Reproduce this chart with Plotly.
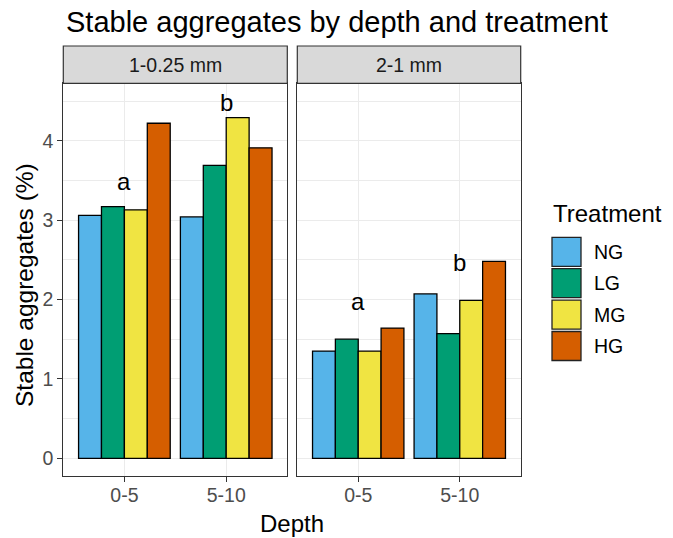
import plotly.graph_objects as go

# ---- data ----
depths = ["0-5", "5-10"]
treatments = ["NG", "LG", "MG", "HG"]
colors = ["#56B4E9", "#009E73", "#F0E442", "#D55E00"]
panels = ["1-0.25 mm", "2-1 mm"]
values_p1 = {"NG": [3.06, 3.04], "LG": [3.17, 3.69], "MG": [3.13, 4.29], "HG": [4.22, 3.91]}
values_p2 = {"NG": [1.35, 2.07], "LG": [1.50, 1.57], "MG": [1.35, 1.99], "HG": [1.64, 2.48]}
letters_p1 = ["a", "b"]
letter_y_p1 = [3.48, 4.48]
letters_p2 = ["a", "b"]
letter_y_p2 = [1.97, 2.47]
y_ticks = [0, 1, 2, 3, 4]

W, H = 673, 538
FONT = "Liberation Sans, Arial, sans-serif"


def px(x):
    return x / W


def py(y):
    return 1 - y / H


panel_x = [(63.3, 287.3), (297.3, 520.7)]
panel_top, panel_bot = 83.3, 476.0
strip_top = 46.0
y_range = [-0.223, 4.723]

fig = go.Figure()
panel_values = [values_p1, values_p2]
panel_letters = [(letters_p1, letter_y_p1), (letters_p2, letter_y_p2)]

for p in range(2):
    xa = "x" if p == 0 else "x2"
    ya = "y" if p == 0 else "y2"
    for t, c in zip(treatments, colors):
        fig.add_trace(go.Bar(
            x=depths, y=panel_values[p][t], name=t, xaxis=xa, yaxis=ya,
            marker=dict(color=c, line=dict(color="black", width=1.3)),
            showlegend=False, hoverinfo="x+y+name"))
    labs, ys = panel_letters[p]
    for d, lab, yv in zip(depths, labs, ys):
        fig.add_annotation(x=d, y=yv, xref=xa, yref=ya, text=lab, showarrow=False,
                           font=dict(size=24, color="black", family=FONT),
                           xanchor="center", yanchor="middle")

axis_common = dict(showline=True, mirror=True, linecolor="#333333", linewidth=1.2,
                   gridcolor="#EBEBEB", gridwidth=1, zeroline=False,
                   ticklen=5, tickcolor="#333333", tickwidth=1,
                   tickfont=dict(size=19.5, color="#4D4D4D", family=FONT))

yd = [py(panel_bot), py(panel_top)]
minor = dict(dtick=0.5, tick0=0, showgrid=True, gridcolor="#EBEBEB", gridwidth=1, ticks="")
fig.update_layout(
    width=W, height=H, autosize=False,
    margin=dict(l=0, r=0, t=0, b=0),
    paper_bgcolor="white", plot_bgcolor="white",
    barmode="group", bargap=0.1, bargroupgap=0,
    xaxis=dict(domain=[px(panel_x[0][0]), px(panel_x[0][1])], type="category",
               range=[-0.6, 1.6], anchor="y", ticks="outside", ticklabelstandoff=-4, **axis_common),
    xaxis2=dict(domain=[px(panel_x[1][0]), px(panel_x[1][1])], type="category",
                range=[-0.6, 1.6], anchor="y2", ticks="outside", ticklabelstandoff=-4, **axis_common),
    yaxis=dict(domain=yd, range=y_range, tickvals=y_ticks, anchor="x", minor=minor,
               ticks="outside", ticklabelstandoff=0, **axis_common),
    yaxis2=dict(domain=yd, range=y_range, tickvals=y_ticks, anchor="x2", minor=minor,
                showticklabels=False, ticks="", **axis_common),
    showlegend=False,
)

# strips
for (x0, x1), lab in zip(panel_x, panels):
    fig.add_shape(type="rect", xref="paper", yref="paper",
                  x0=px(x0), x1=px(x1), y0=py(panel_top), y1=py(strip_top),
                  fillcolor="#D9D9D9", line=dict(color="#333333", width=1.2), layer="above")
    fig.add_annotation(xref="paper", yref="paper", x=px((x0 + x1) / 2), y=py((strip_top + panel_top) / 2),
                       text=lab, showarrow=False, xanchor="center", yanchor="middle",
                       font=dict(size=19.5, color="#1A1A1A", family=FONT))

# title and axis titles
fig.add_annotation(xref="paper", yref="paper", x=px(64), y=py(21.5), text="Stable aggregates by depth and treatment",
                   showarrow=False, xanchor="left", yanchor="middle",
                   font=dict(size=29, color="black", family=FONT))
fig.add_annotation(xref="paper", yref="paper", x=px(292), y=py(523), text="Depth",
                   showarrow=False, xanchor="center", yanchor="middle",
                   font=dict(size=24, color="black", family=FONT))
fig.add_annotation(xref="paper", yref="paper", x=px(24), y=py(285), text="Stable aggregates (%)",
                   showarrow=False, xanchor="center", yanchor="middle", textangle=-90,
                   font=dict(size=24.5, color="black", family=FONT))

# legend (drawn manually)
fig.add_annotation(xref="paper", yref="paper", x=px(551), y=py(213), text="Treatment",
                   showarrow=False, xanchor="left", yanchor="middle",
                   font=dict(size=24, color="black", family=FONT))
key_top, key_size, key_step = 237.3, 29.0, 31.4
for i, (t, c) in enumerate(zip(treatments, colors)):
    y0 = key_top + i * key_step
    fig.add_shape(type="rect", xref="paper", yref="paper",
                  x0=px(552), x1=px(552 + key_size), y0=py(y0 + key_size), y1=py(y0),
                  fillcolor=c, line=dict(color="#222222", width=1.3))
    fig.add_annotation(xref="paper", yref="paper", x=px(592), y=py(y0 + key_size / 2), text=t,
                       showarrow=False, xanchor="left", yanchor="middle",
                       font=dict(size=19.5, color="black", family=FONT))

fig.write_html("out.html")
